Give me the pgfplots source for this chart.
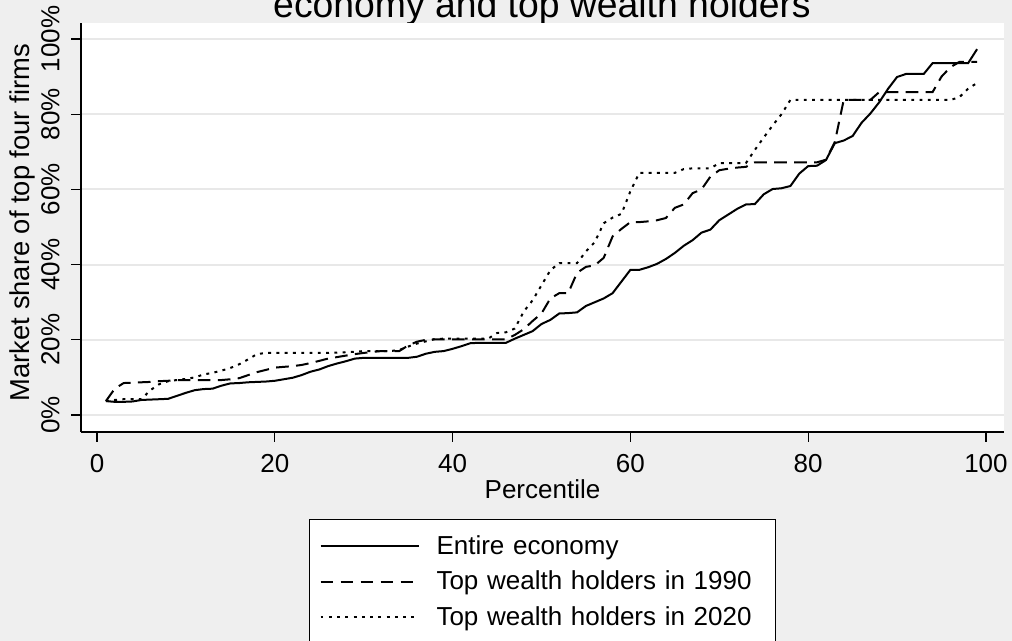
\documentclass[border=0pt]{standalone}
\usepackage{fontspec}
\setmainfont{Liberation Sans}
\usepackage{pgfplots}
\pgfplotsset{compat=1.18}
\usepackage{pgfplotstable}

\definecolor{bg}{RGB}{239,239,239}
\definecolor{gridc}{RGB}{232,232,232}
\newcommand{\fs}{\fontsize{19.5}{23}\selectfont}

\pgfplotstableread{
p v
1 3.7
2 3.5
3 3.5
4 3.6
5 4.0
6 4.1
7 4.2
8 4.3
9 5.1
10 5.9
11 6.6
12 6.9
13 7.0
14 7.8
15 8.4
16 8.5
17 8.7
18 8.8
19 8.9
20 9.1
21 9.5
22 9.9
23 10.6
24 11.5
25 12.1
26 13.0
27 13.7
28 14.3
29 15.0
30 15.2
31 15.2
32 15.2
33 15.2
34 15.2
35 15.2
36 15.5
37 16.3
38 16.8
39 17.0
40 17.6
41 18.3
42 19.1
43 19.2
44 19.2
45 19.2
46 19.2
47 20.3
48 21.3
49 22.3
50 24.2
51 25.3
52 27.0
53 27.1
54 27.3
55 29.0
56 30.0
57 31.0
58 32.4
59 35.5
60 38.6
61 38.6
62 39.3
63 40.2
64 41.5
65 43.1
66 45.0
67 46.5
68 48.5
69 49.3
70 51.8
71 53.3
72 54.8
73 56.0
74 56.1
75 58.7
76 60.1
77 60.3
78 60.9
79 64.2
80 66.2
81 66.3
82 67.8
83 72.3
84 73.0
85 74.2
86 77.7
87 80.2
88 83.2
89 86.8
90 89.9
91 90.7
92 90.7
93 90.7
94 93.6
95 93.6
96 93.6
97 93.6
98 93.6
99 97.3
}\entire

\pgfplotstableread{
p v
1 3.7
2 7.0
3 8.5
4 8.6
5 8.7
6 8.8
7 9.0
8 9.1
9 9.3
10 9.3
11 9.3
12 9.3
13 9.3
14 9.3
15 9.5
16 9.8
17 10.6
18 11.4
19 12.0
20 12.6
21 12.8
22 13.0
23 13.3
24 13.8
25 14.4
26 15.0
27 15.4
28 15.8
29 16.2
30 16.5
31 16.8
32 17.0
33 17.0
34 17.0
35 18.5
36 19.5
37 20.0
38 20.1
39 20.1
40 20.1
41 20.1
42 20.1
43 20.1
44 20.1
45 20.1
46 20.1
47 21.3
48 22.8
49 25.0
50 27.0
51 31.0
52 32.4
53 32.4
54 37.8
55 39.4
56 39.8
57 41.8
58 47.5
59 49.5
60 51.3
61 51.3
62 51.5
63 51.8
64 52.4
65 55.1
66 56.0
67 59.0
68 60.0
69 63.4
70 65.1
71 65.5
72 65.8
73 66.0
74 67.2
75 67.2
76 67.2
77 67.2
78 67.2
79 67.2
80 67.2
81 67.2
82 67.9
83 72.6
84 83.8
85 83.8
86 83.8
87 83.8
88 85.9
89 85.9
90 85.9
91 85.9
92 85.9
93 85.9
94 85.9
95 90.0
96 92.5
97 93.9
98 93.9
99 93.9
}\nineteen

\pgfplotstableread{
p v
1 3.7
2 4.0
3 4.2
4 4.2
5 4.2
6 6.6
7 8.2
8 9.0
9 9.3
10 9.6
11 10.0
12 10.8
13 11.2
14 11.8
15 12.5
16 13.5
17 14.8
18 16.2
19 16.5
20 16.5
21 16.5
22 16.5
23 16.5
24 16.5
25 16.5
26 16.5
27 16.6
28 16.7
29 16.8
30 17.0
31 17.0
32 17.0
33 17.0
34 17.3
35 18.2
36 19.0
37 19.6
38 20.2
39 20.3
40 20.3
41 20.3
42 20.3
43 20.3
44 20.3
45 21.8
46 22.0
47 23.0
48 27.5
49 30.5
50 34.5
51 38.5
52 40.4
53 40.4
54 40.4
55 43.5
56 46.0
57 51.0
58 52.5
59 53.5
60 59.5
61 64.4
62 64.4
63 64.4
64 64.4
65 64.4
66 65.4
67 65.6
68 65.6
69 65.6
70 67.0
71 67.0
72 67.0
73 67.0
74 70.5
75 73.8
76 77.0
77 80.0
78 83.8
79 83.8
80 83.8
81 83.8
82 83.8
83 83.8
84 83.8
85 83.8
86 83.8
87 83.8
88 83.8
89 83.8
90 83.8
91 83.8
92 83.8
93 83.8
94 83.8
95 83.8
96 83.8
97 84.5
98 86.8
99 88.3
}\twenty

\begin{document}
\begin{tikzpicture}
\useasboundingbox (0,0) rectangle (759pt,480.75pt);
\fill[bg] (0,0) rectangle (759pt,480.75pt);
\node[font=\fontsize{28}{32}\selectfont, anchor=base, inner sep=0pt] at (406.5pt,467.25pt) {economy and top wealth holders};
\begin{axis}[
  at={(60.75pt,156.75pt)}, anchor=south west,
  scale only axis, width=692.25pt, height=306.75pt,
  xmin=-1.8, xmax=102.03, ymin=-4.52, ymax=104.26,
  axis x line*=bottom, axis y line*=left,
  axis line style={black, line width=1.1pt},
  axis background/.style={fill=white},
  tick align=outside, major tick length=7.5pt,
  tick style={black, line width=1pt},
  xtick={0,20,40,60,80,100}, xticklabels={0,20,40,60,80,100},
  ytick={0,20,40,60,80,100}, yticklabels={0\%,20\%,40\%,60\%,80\%,100\%},
  ymajorgrids, grid style={gridc, line width=1.5pt},
  xticklabel style={font=\fs, anchor=north, inner sep=0pt},
  yticklabel style={font=\fs, rotate=90, anchor=south, inner sep=0pt},
  xticklabel shift=9pt, yticklabel shift=8.25pt,
  xlabel={Percentile}, ylabel={Market share of top four firms},
  every axis x label/.style={at={(axis description cs:0.5,-0.1614)}, anchor=base, font=\fs, inner sep=0pt},
  every axis y label/.style={at={(axis description cs:-0.0553,0.512)}, rotate=90, anchor=base, font=\fontsize{20.5}{24}\selectfont, inner sep=0pt},
  legend image code/.code={\draw[#1, line cap=butt] (8.25pt,6.2pt) -- (81.75pt,6.2pt); \path[draw=none] (0pt,0pt) -- (95.25pt,0pt);},
  legend style={at={(0.5,-0.2127)}, anchor=north, draw=black, line width=0.8pt, fill=white,
    inner xsep=0pt, inner ysep=11.25pt, row sep=6.6pt, column sep=0pt, font=\fs,
    nodes={inner sep=0pt, anchor=base west, text height=15pt, text depth=5pt, text width=254.25pt}},
]
\addplot[black, line width=1.5pt] table[x=p,y=v] {\entire};
\addlegendentry{Entire economy}
\addplot[black, line width=1.5pt, dash pattern=on 9.5pt off 5.5pt] table[x=p,y=v] {\nineteen};
\addlegendentry{Top wealth holders in 1990}
\addplot[black, line width=1.5pt, dash pattern=on 2.2pt off 4pt] table[x=p,y=v] {\twenty};
\addlegendentry{Top wealth holders in 2020}
\end{axis}
\end{tikzpicture}
\end{document}
